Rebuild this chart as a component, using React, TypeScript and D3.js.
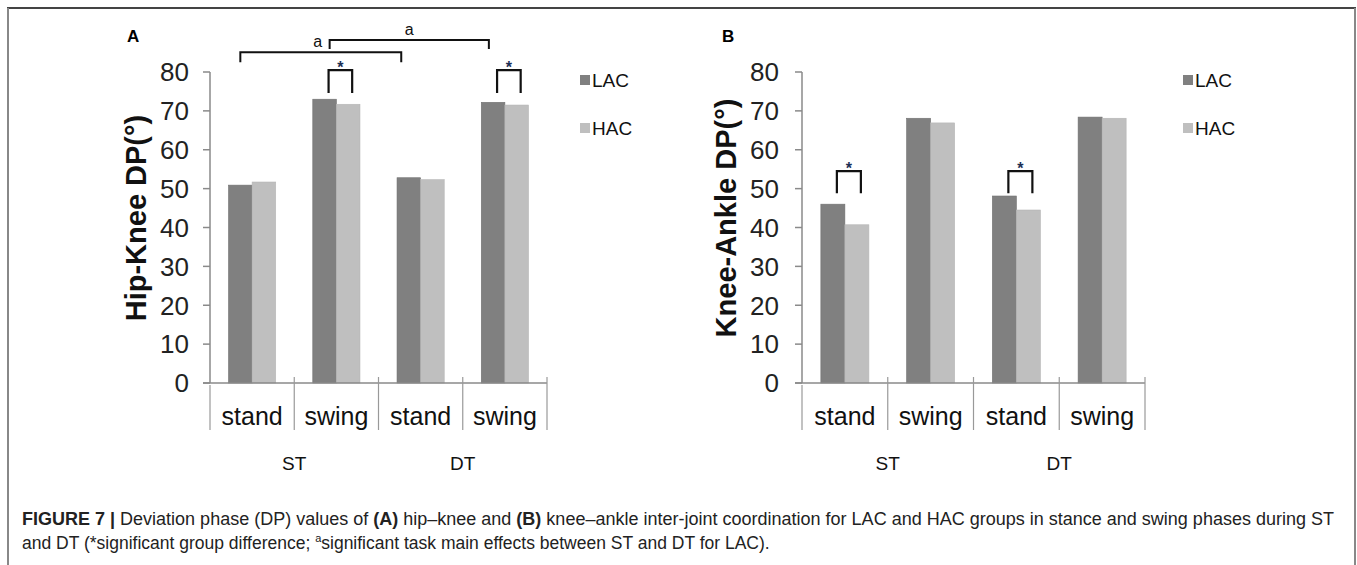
import React from "react";
import * as d3 from "d3";

const phases = ["stand", "swing", "stand", "swing"];
const tasks = ["ST", "DT"];
const groups = ["LAC", "HAC"];
const yTicks = [0, 10, 20, 30, 40, 50, 60, 70, 80];

// values
const hipKneeLAC = [50.9, 73.0, 52.8, 72.2];
const hipKneeHAC = [51.7, 71.7, 52.3, 71.5];
const kneeAnkleLAC = [46.0, 68.1, 48.1, 68.4];
const kneeAnkleHAC = [40.7, 66.9, 44.5, 68.1];

// significance marks: category index of the group difference (*)
const starsA = [1, 3];
const starsB = [0, 2];
// task main effects (a) between ST and DT for LAC
const taskBracketsA = [
  { from: 0, fromFrac: 0.36, to: 2, toFrac: 0.27, top: 85.1, leg: 82.5 },
  { from: 1, fromFrac: 0.42, to: 3, toFrac: 0.31, top: 88.2, leg: 85.9 },
];

const colors: Record<string, string> = { LAC: "#808080", HAC: "#bfbfbf" };
const FONT = "Liberation Sans, Arial, sans-serif";

interface PanelProps {
  label: string;
  labelX: number;
  title: string;
  left: number;
  right: number;
  lac: number[];
  hac: number[];
  stars: number[];
  starTop: number;
  starLeg: number;
  legendX: number;
  tickLabelRight: number;
  titleX: number;
  brackets?: typeof taskBracketsA;
}

const Panel = ({
  label, labelX, title, left, right, lac, hac, stars, starTop, starLeg,
  legendX, tickLabelRight, titleX, brackets = [],
}: PanelProps) => {
  const top = 72;
  const bottom = 383;
  const y = d3.scaleLinear().domain([0, 80]).range([bottom, top]);
  const x = d3.scaleBand<number>().domain(d3.range(phases.length)).range([left, right]);
  const bw = x.bandwidth();
  const pad = bw * 0.22;
  const xg = d3.scaleBand<string>().domain(groups).range([pad, bw - pad]);
  const series: Record<string, number[]> = { LAC: lac, HAC: hac };
  const bandEdges = d3.range(phases.length + 1).map((i) => left + i * bw);

  return (
    <g>
      <text x={labelX} y={42} fontFamily={FONT} fontWeight="bold" fontSize={17}>{label}</text>

      {/* y axis */}
      <line x1={left} x2={left} y1={top} y2={bottom} stroke="#8a8a8a" strokeWidth={1.5} />
      {yTicks.map((t) => (
        <g key={t}>
          <line x1={left - 7} x2={left} y1={y(t)} y2={y(t)} stroke="#8a8a8a" strokeWidth={1.5} />
          <text x={tickLabelRight} y={y(t)} dy="0.36em" textAnchor="end" fontFamily={FONT} fontSize={26} fill="#222">
            {t}
          </text>
        </g>
      ))}
      <text
        transform={`translate(${titleX},218) rotate(-90)`}
        textAnchor="middle"
        dy="0.36em"
        fontFamily={FONT}
        fontWeight="bold"
        fontSize={29}
        fill="#111"
      >
        {title}
      </text>

      {/* bars */}
      {phases.map((p, i) =>
        groups.map((g) => (
          <rect
            key={`${i}-${g}`}
            x={(x(i) ?? 0) + (xg(g) ?? 0)}
            y={y(series[g][i])}
            width={xg.bandwidth()}
            height={bottom - y(series[g][i])}
            fill={colors[g]}
            stroke={g === "LAC" ? "#707070" : "#b5b5b5"}
            strokeWidth={0.6}
          />
        ))
      )}

      {/* category axis */}
      <line x1={left - 7} x2={right} y1={bottom} y2={bottom} stroke="#8a8a8a" strokeWidth={1.5} />
      {bandEdges.map((bx, i) => (
        <line key={`e${i}`} x1={bx} x2={bx} y1={i === 0 ? bottom + 2 : bottom - 6} y2={430} stroke="#999" strokeWidth={1.2} />
      ))}
      {phases.map((p, i) => (
        <text key={`p${i}`} x={(x(i) ?? 0) + bw / 2} y={425} textAnchor="middle" fontFamily={FONT} fontSize={25} fill="#111">
          {p}
        </text>
      ))}
      {tasks.map((t, k) => (
        <text key={t} x={left + bw * (2 * k + 1)} y={470} textAnchor="middle" fontFamily={FONT} fontSize={19} fill="#111">
          {t}
        </text>
      ))}

      {/* group difference brackets */}
      {stars.map((i) => {
        const x1 = (x(i) ?? 0) + (xg("LAC") ?? 0) + xg.bandwidth() / 2 + 4;
        const x2 = (x(i) ?? 0) + (xg("HAC") ?? 0) + xg.bandwidth() / 2 + 4;
        return (
          <g key={`s${i}`}>
            <path
              d={`M${x1},${y(starLeg)}V${y(starTop)}H${x2}V${y(starLeg)}`}
              fill="none"
              stroke="#111"
              strokeWidth={2.2}
            />
            <text x={(x1 + x2) / 2} y={y(starTop) + 3} textAnchor="middle" fontFamily={FONT} fontWeight="bold" fontSize={16} fill="#1d2f55">
              *
            </text>
          </g>
        );
      })}

      {/* task effect brackets */}
      {brackets.map((b, k) => {
        const x1 = (x(b.from) ?? 0) + bw * b.fromFrac;
        const x2 = (x(b.to) ?? 0) + bw * b.toFrac;
        return (
          <g key={`b${k}`}>
            <path
              d={`M${x1},${y(b.leg)}V${y(b.top)}H${x2}V${y(b.leg)}`}
              fill="none"
              stroke="#111"
              strokeWidth={2}
            />
            <text x={(x1 + x2) / 2 - (k === 0 ? 3 : 0)} y={y(b.top) - 5} textAnchor="middle" fontFamily={FONT} fontSize={16} fill="#111">
              a
            </text>
          </g>
        );
      })}

      {/* legend */}
      {groups.map((g, k) => (
        <g key={`l${g}`} transform={`translate(${legendX},${80 + k * 48})`}>
          <rect x={0} y={-5} width={10} height={10} fill={colors[g]} />
          <text x={12} y={0} dy="0.36em" fontFamily={FONT} fontSize={19} fill="#111">{g}</text>
        </g>
      ))}
    </g>
  );
};

export default function App() {
  return (
    <div style={{ position: "fixed", left: 0, top: 0 }}>
      <svg width={1357} height={565} style={{ display: "block", background: "#fff" }}>
        {/* frame */}
        <line x1={7} x2={1356} y1={8} y2={8} stroke="#444" strokeWidth={2} />
        <line x1={8} x2={8} y1={8} y2={565} stroke="#888" strokeWidth={2} />
        <line x1={1355} x2={1355} y1={8} y2={565} stroke="#888" strokeWidth={2} />

        <Panel
          label="A"
          labelX={127}
          title="Hip-Knee DP(°)"
          left={210}
          right={547}
          lac={hipKneeLAC}
          hac={hipKneeHAC}
          stars={starsA}
          starTop={80.5}
          starLeg={74.6}
          legendX={580}
          tickLabelRight={189}
          titleX={136}
          brackets={taskBracketsA}
        />
        <Panel
          label="B"
          labelX={722}
          title="Knee-Ankle DP(°)"
          left={802}
          right={1145}
          lac={kneeAnkleLAC}
          hac={kneeAnkleHAC}
          stars={starsB}
          starTop={54.5}
          starLeg={48.8}
          legendX={1183}
          tickLabelRight={779}
          titleX={726}
        />

        {/* caption */}
        <text x={22} y={525} fontFamily={FONT} fontSize={17.5} fill="#222" textLength={1312} lengthAdjust="spacingAndGlyphs">
          <tspan fontWeight="bold">FIGURE 7 | </tspan>
          <tspan>Deviation phase (DP) values of </tspan>
          <tspan fontWeight="bold">(A)</tspan>
          <tspan> hip–knee and </tspan>
          <tspan fontWeight="bold">(B)</tspan>
          <tspan> knee–ankle inter-joint coordination for LAC and HAC groups in stance and swing phases during ST</tspan>
        </text>
        <text x={22} y={549} fontFamily={FONT} fontSize={17.5} fill="#222">
          <tspan>and DT (*significant group difference; </tspan>
          <tspan fontSize={11} dy={-7}>a</tspan>
          <tspan dy={7}>significant task main effects between ST and DT for LAC).</tspan>
        </text>
      </svg>
    </div>
  );
}
